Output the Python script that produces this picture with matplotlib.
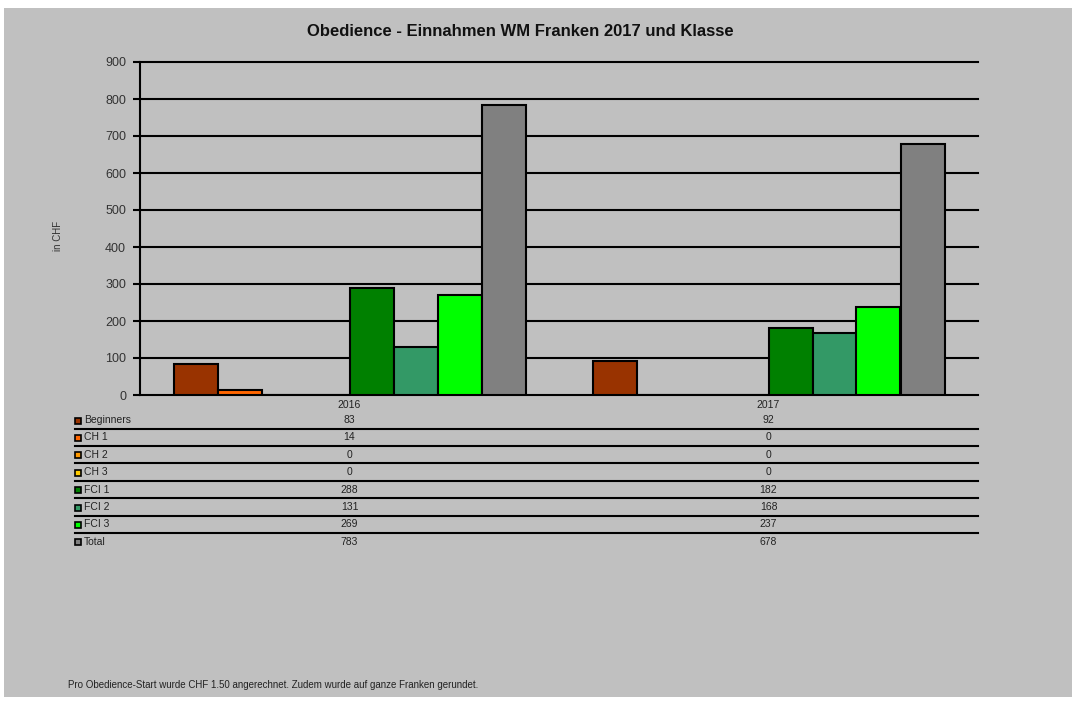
import matplotlib.pyplot as plt
import matplotlib.transforms as mtransforms
from matplotlib.patches import Rectangle
import numpy as np

plt.rcParams['font.family'] = ['Liberation Sans', 'DejaVu Sans']

# data
years = ['2016', '2017']
series = ['Beginners', 'CH 1', 'CH 2', 'CH 3', 'FCI 1', 'FCI 2', 'FCI 3', 'Total']
beginners = [83, 92]
ch1 = [14, 0]
ch2 = [0, 0]
ch3 = [0, 0]
fci1 = [288, 182]
fci2 = [131, 168]
fci3 = [269, 237]
total = [783, 678]
colors = ['#993300', '#FF6600', '#FF9900', '#FFCC00', '#008000', '#339966', '#00FF00', '#808080']

values = [beginners, ch1, ch2, ch3, fci1, fci2, fci3, total]

W, H = 1077, 702
fig = plt.figure(figsize=(W / 100, H / 100), dpi=100)
fig.patch.set_facecolor('white')
# gray chart area
fig.patches.append(Rectangle((4 / W, 1 - 697 / H), 1068 / W, 689 / H,
                             transform=fig.transFigure, facecolor='#c0c0c0',
                             edgecolor='none', zorder=-5))

ax = fig.add_axes([140 / W, 1 - 395 / H, 838 / W, 333 / H])
ax.set_facecolor('#c0c0c0')
ax.set_zorder(1)

n = len(series)
bw = 44 / 419.0
x = np.arange(len(years))
for i, (name, vals, c) in enumerate(zip(series, values, colors)):
    offs = (i - (n - 1) / 2) * bw
    ax.bar(x + offs, vals, width=bw, color=c, edgecolor='black', linewidth=1.5, zorder=3)

ax.set_xlim(-0.5, 1.5)
ax.set_ylim(0, 900)
ax.set_yticks(range(0, 901, 100))
for t in range(100, 901, 100):
    ax.axhline(t, color='black', linewidth=1.5, zorder=1, clip_on=False)
ax.set_xticks([])
for s in ['top', 'right']:
    ax.spines[s].set_visible(False)
ax.spines['left'].set_linewidth(1.5)
ax.spines['bottom'].set_linewidth(1.5)
ax.tick_params(axis='y', length=5, width=1.5, labelsize=9, colors='black', pad=5)
for lbl in ax.get_yticklabels():
    lbl.set_color('#333333')

fig.text(520 / W, 1 - 31 / H, 'Obedience - Einnahmen WM Franken 2017 und Klasse',
         ha='center', va='center', fontsize=12, fontweight='bold', color='#111111')
fig.text(58 / W, 1 - 236 / H, 'in CHF', rotation=90, ha='center', va='center',
         fontsize=7, color='#333333')

# data table below the plot
trans = mtransforms.blended_transform_factory(ax.transData, fig.transFigure)
for j, yr in enumerate(years):
    fig.text(x[j], 1 - 405 / H, yr, transform=trans, ha='center', va='center',
             fontsize=7.5, color='#222222')

row0 = 420
row_h = 17.4
for i, (name, vals, c) in enumerate(zip(series, values, colors)):
    yy = row0 + i * row_h
    fig.patches.append(Rectangle((75 / W, 1 - (yy + 3.5) / H), 6 / W, 6 / H,
                                 transform=fig.transFigure, facecolor=c,
                                 edgecolor='black', linewidth=1.2))
    fig.text(84 / W, 1 - yy / H, name, ha='left', va='center', fontsize=7.5, color='#222222')
    for j in range(len(years)):
        fig.text(x[j], 1 - yy / H, str(vals[j]), transform=trans,
                 ha='center', va='center', fontsize=7.5, color='#222222')
    if i < n - 1:
        ly = 1 - (yy + 8.5) / H
        fig.add_artist(plt.Line2D([75 / W, 978 / W], [ly, ly], transform=fig.transFigure,
                                  color='black', linewidth=1.5))

fig.text(68 / W, 1 - 685 / H,
         'Pro Obedience-Start wurde CHF 1.50 angerechnet. Zudem wurde auf ganze Franken gerundet.',
         ha='left', va='center', fontsize=7, color='#222222')

fig.savefig('out.png', dpi=100, facecolor=fig.get_facecolor())
